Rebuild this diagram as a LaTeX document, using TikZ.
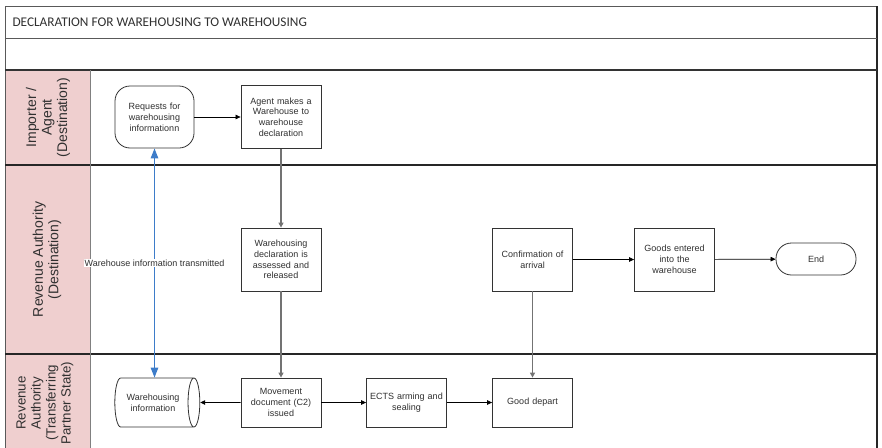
\documentclass[tikz,border=0pt]{standalone}
\usepackage{fontspec}
\setmainfont{Liberation Sans}
\newfontfamily\titlefont{Carlito}
\usetikzlibrary{shapes.geometric,arrows.meta}
\definecolor{lanepink}{HTML}{EFCFCF}
\definecolor{flowblue}{HTML}{3D7CC9}
\definecolor{boxline}{HTML}{333333}
\definecolor{txt}{HTML}{303030}
\tikzset{
  boxfont/.style={font=\fontsize{9}{10.8}\selectfont},
  procbox/.style={draw=boxline, line width=0.8pt, fill=white, minimum width=80pt, minimum height=63pt,
    align=center, text width=76pt, boxfont, text=txt, inner sep=2pt},
  lowbox/.style={procbox, minimum height=49pt},
  termbox/.style={draw=boxline, line width=0.8pt, fill=white, align=center, text=txt, boxfont},
  lanelabel/.style={rotate=90, align=center, font=\fontsize{14}{15.5}\selectfont, text=txt},
  harrow/.style={draw=black, line width=0.7pt, -{Triangle[length=5pt,width=4.5pt]}},
  varrow/.style={draw=black!55, line width=1.6pt, -{Triangle[length=5pt,width=5pt]}},
  bluearrow/.style={draw=flowblue, line width=1.3pt, {Triangle[length=10pt,width=7.5pt]}-{Triangle[length=10pt,width=7.5pt]}},
}
\begin{document}
\begin{tikzpicture}[x=1pt,y=-1pt]
\useasboundingbox (0,0) rectangle (882,447);
\begin{scope}
\clip (0,0) rectangle (882,447);
% lane label column
\fill[lanepink] (5,70) rectangle (90,470);
% frame
\draw[draw=gray!70!black, line width=0.9pt] (5,470) -- (5,6) -- (877,6);
\draw[draw=black!85, line width=1.1pt] (877,6) -- (877,470);
\draw[draw=gray!70!black, line width=1pt] (5,38) -- (877,38);
\draw[draw=black!80, line width=1.1pt] (5,70) -- (877,70);
\draw[draw=black!85, line width=1.2pt] (5,165) -- (877,165);
\draw[draw=black!85, line width=1.2pt] (5,354) -- (877,354);
\draw[draw=gray, line width=1pt] (90,70) -- (90,470);
\end{scope}

\node[anchor=west, font=\titlefont\fontsize{13.3}{15}\selectfont, text=txt] (title) at (9,22) {DECLARATION FOR WAREHOUSING TO WAREHOUSING};

\node[lanelabel] (lane1) at (48,117.5) {Importer /\\Agent\\(Destination)};
\node[lanelabel] (lane2) at (47,259.5) {Revenue Authority\\(Destination)};
\node[lanelabel, font=\fontsize{13.3}{15}\selectfont] (lane3) at (45,403) {Revenue\\Authority\\(Transferring\\Partner State)};

% nodes
\node[termbox, rounded corners=15pt, minimum width=79pt, minimum height=62pt, text width=72pt] (req) at (154.5,117) {Requests for\\warehousing\\informationn};
\node[procbox] (agent) at (281,117) {Agent makes a\\Warehouse to\\warehouse\\declaration};
\node[procbox] (assess) at (281,259.5) {Warehousing\\declaration is\\assessed and\\released};
\node[procbox] (confirm) at (532.5,259.5) {Confirmation of\\arrival};
\node[procbox] (goods) at (674.5,259.5) {Goods entered\\into the\\warehouse};
\node[termbox, rounded corners=15.5pt, minimum width=80pt, minimum height=32pt] (end) at (816,259) {End};
\node[draw=boxline, line width=0.8pt, fill=white, shape=cylinder, aspect=0.55, minimum width=49pt, minimum height=85pt,
  align=center, text=txt, boxfont, inner sep=2pt] (cyl) at (153,402.5) {Warehousing\\information};
\node[lowbox] (move) at (281,402.5) {Movement\\document (C2)\\issued};
\node[lowbox] (ects) at (406.5,402.5) {ECTS arming and\\sealing};
\node[lowbox] (depart) at (532.5,402.5) {Good depart};

% connectors
\draw[harrow] (req) -- (agent);
\draw[varrow] (agent) -- (assess);
\draw[varrow] (assess) -- (move);
\draw[harrow] (move) -- (cyl);
\draw[harrow] (move) -- (ects);
\draw[harrow] (ects) -- (depart);
\draw[varrow] (confirm) -- (depart);
\draw[harrow] (confirm) -- (goods);
\draw[harrow] (goods) -- (end);
\draw[bluearrow] (req.south) -- (req.south |- cyl.north)
  node[pos=0.5, fill=white, inner sep=1pt, text=txt, boxfont] (lbl) {Warehouse information transmitted};
\end{tikzpicture}
\end{document}
